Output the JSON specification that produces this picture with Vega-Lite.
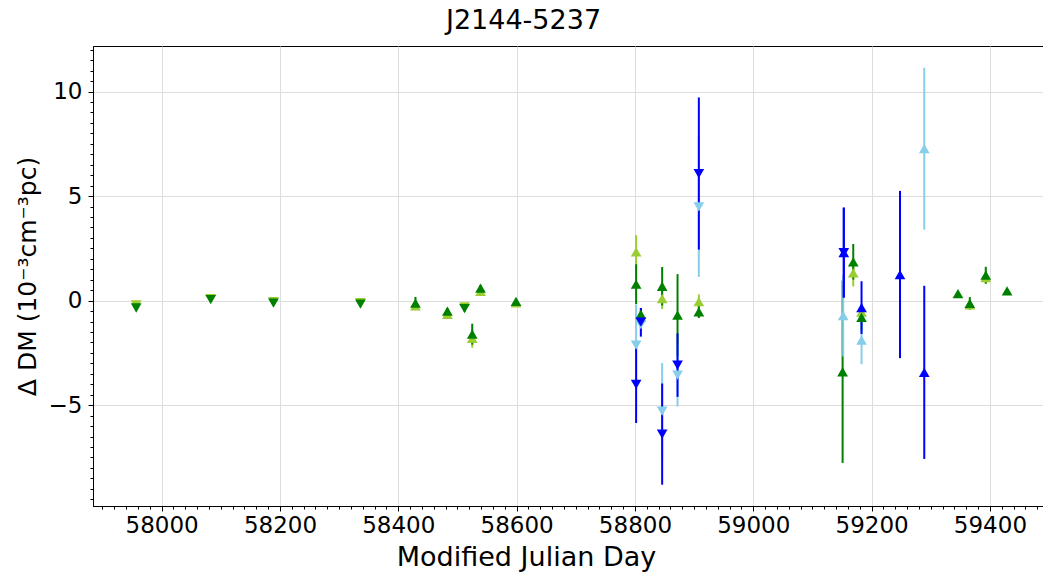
{
  "$schema": "https://vega.github.io/schema/vega-lite/v6.json",
  "width": 951,
  "height": 460,
  "autosize": {"type": "none"},
  "padding": {"left": 93, "top": 46, "right": 0, "bottom": 70},
  "title": {"text": "J2144-5237", "fontSize": 27, "font": "DejaVu Sans", "fontWeight": "normal", "color": "#000", "anchor": "middle", "frame": "group", "dx": -45, "baseline": "alphabetic", "offset": -10},
  "config": {
    "font": "DejaVu Sans",
    "view": {"stroke": "#000", "strokeWidth": 1},
    "axis": {"labelFont": "DejaVu Sans", "titleFont": "DejaVu Sans", "labelColor": "#000", "titleColor": "#000", "tickColor": "#000", "domainColor": "#000", "tickWidth": 1, "domainWidth": 1}
  },
  "data": {"values": [
    {"mjd": 57957, "dm": -0.2, "err": 0.1, "sys": "YG", "sub": "down"},
    {"mjd": 58083, "dm": 0.1, "err": 0.1, "sys": "YG", "sub": "down"},
    {"mjd": 58189, "dm": -0.05, "err": 0.1, "sys": "YG", "sub": "down"},
    {"mjd": 58336, "dm": -0.1, "err": 0.1, "sys": "YG", "sub": "down"},
    {"mjd": 58429, "dm": -0.25, "err": 0.2, "sys": "YG", "sub": "up"},
    {"mjd": 58483, "dm": -0.65, "err": 0.15, "sys": "YG", "sub": "up"},
    {"mjd": 58512, "dm": -0.3, "err": 0.15, "sys": "YG", "sub": "down"},
    {"mjd": 58525, "dm": -1.8, "err": 0.45, "sys": "YG", "sub": "up"},
    {"mjd": 58539, "dm": 0.45, "err": 0.15, "sys": "YG", "sub": "up"},
    {"mjd": 58599, "dm": -0.1, "err": 0.1, "sys": "YG", "sub": "up"},
    {"mjd": 58802, "dm": 2.33, "err": 0.8, "sys": "YG", "sub": "up"},
    {"mjd": 58810, "dm": -0.8, "err": 0.3, "sys": "YG", "sub": "up"},
    {"mjd": 58846, "dm": 0.1, "err": 0.5, "sys": "YG", "sub": "up"},
    {"mjd": 58908, "dm": -0.05, "err": 0.35, "sys": "YG", "sub": "up"},
    {"mjd": 59169, "dm": 1.33, "err": 0.65, "sys": "YG", "sub": "up"},
    {"mjd": 59183, "dm": -0.55, "err": 0.3, "sys": "YG", "sub": "up"},
    {"mjd": 59366, "dm": -0.2, "err": 0.2, "sys": "YG", "sub": "up"},
    {"mjd": 59393, "dm": 1.1, "err": 0.3, "sys": "YG", "sub": "up"},
    {"mjd": 57957, "dm": -0.35, "err": 0.1, "sys": "G", "sub": "down"},
    {"mjd": 58083, "dm": 0.05, "err": 0.1, "sys": "G", "sub": "down"},
    {"mjd": 58189, "dm": -0.12, "err": 0.1, "sys": "G", "sub": "down"},
    {"mjd": 58336, "dm": -0.17, "err": 0.1, "sys": "G", "sub": "down"},
    {"mjd": 58429, "dm": -0.12, "err": 0.3, "sys": "G", "sub": "up"},
    {"mjd": 58483, "dm": -0.5, "err": 0.15, "sys": "G", "sub": "up"},
    {"mjd": 58512, "dm": -0.38, "err": 0.15, "sys": "G", "sub": "down"},
    {"mjd": 58525, "dm": -1.6, "err": 0.5, "sys": "G", "sub": "up"},
    {"mjd": 58539, "dm": 0.6, "err": 0.15, "sys": "G", "sub": "up"},
    {"mjd": 58599, "dm": -0.03, "err": 0.1, "sys": "G", "sub": "up"},
    {"mjd": 58802, "dm": 0.79, "err": 0.95, "sys": "G", "sub": "up"},
    {"mjd": 58810, "dm": -0.65, "err": 0.3, "sys": "G", "sub": "up"},
    {"mjd": 58846, "dm": 0.69, "err": 0.92, "sys": "G", "sub": "up"},
    {"mjd": 58872, "dm": -0.69, "err": 1.96, "sys": "G", "sub": "up"},
    {"mjd": 58908, "dm": -0.53, "err": 0.3, "sys": "G", "sub": "up"},
    {"mjd": 59151, "dm": -3.4, "err": 4.36, "sys": "G", "sub": "up"},
    {"mjd": 59169, "dm": 1.86, "err": 0.85, "sys": "G", "sub": "up"},
    {"mjd": 59183, "dm": -0.8, "err": 0.6, "sys": "G", "sub": "up"},
    {"mjd": 59346, "dm": 0.34, "err": 0.12, "sys": "G", "sub": "up"},
    {"mjd": 59366, "dm": -0.13, "err": 0.3, "sys": "G", "sub": "up"},
    {"mjd": 59393, "dm": 1.22, "err": 0.4, "sys": "G", "sub": "up"},
    {"mjd": 59429, "dm": 0.47, "err": 0.1, "sys": "G", "sub": "up"},
    {"mjd": 58802, "dm": -2.13, "err": 1.95, "sys": "SB", "sub": "down"},
    {"mjd": 58810, "dm": -1.15, "err": 0.6, "sys": "SB", "sub": "down"},
    {"mjd": 58846, "dm": -5.28, "err": 2.3, "sys": "SB", "sub": "down"},
    {"mjd": 58872, "dm": -3.56, "err": 1.5, "sys": "SB", "sub": "down"},
    {"mjd": 58908, "dm": 4.49, "err": 3.35, "sys": "SB", "sub": "down"},
    {"mjd": 59152, "dm": -0.72, "err": 1.95, "sys": "SB", "sub": "up"},
    {"mjd": 59183, "dm": -1.89, "err": 1.15, "sys": "SB", "sub": "up"},
    {"mjd": 59289, "dm": 7.27, "err": 3.87, "sys": "SB", "sub": "up"},
    {"mjd": 58802, "dm": -4.0, "err": 1.85, "sys": "B", "sub": "down"},
    {"mjd": 58810, "dm": -1.03, "err": 0.68, "sys": "B", "sub": "down"},
    {"mjd": 58846, "dm": -6.38, "err": 2.42, "sys": "B", "sub": "down"},
    {"mjd": 58872, "dm": -3.08, "err": 1.52, "sys": "B", "sub": "down"},
    {"mjd": 58908, "dm": 6.08, "err": 3.64, "sys": "B", "sub": "down"},
    {"mjd": 59153, "dm": 2.3, "err": 2.15, "sys": "B", "sub": "up"},
    {"mjd": 59153, "dm": 2.3, "err": 2.15, "sys": "B", "sub": "down"},
    {"mjd": 59183, "dm": -0.33, "err": 1.26, "sys": "B", "sub": "up"},
    {"mjd": 59248, "dm": 1.25, "err": 4.0, "sys": "B", "sub": "up"},
    {"mjd": 59289, "dm": -3.43, "err": 4.14, "sys": "B", "sub": "up"}
  ]},
  "layer": [
    {
      "mark": {"type": "errorbar", "thickness": 2},
      "encoding": {
        "x": {"field": "mjd", "type": "quantitative", "scale": {"domain": [57884, 59491.4], "nice": false, "zero": false},
          "axis": {"orient": "bottom", "values": [57900,57920,57940,57960,57980,58000,58020,58040,58060,58080,58100,58120,58140,58160,58180,58200,58220,58240,58260,58280,58300,58320,58340,58360,58380,58400,58420,58440,58460,58480,58500,58520,58540,58560,58580,58600,58620,58640,58660,58680,58700,58720,58740,58760,58780,58800,58820,58840,58860,58880,58900,58920,58940,58960,58980,59000,59020,59040,59060,59080,59100,59120,59140,59160,59180,59200,59220,59240,59260,59280,59300,59320,59340,59360,59380,59400,59420,59440,59460,59480], "labels": false, "ticks": true, "tickSize": 3, "domain": false, "grid": false, "title": null}},
        "y": {"field": "dm", "type": "quantitative", "scale": {"domain": [-9.82, 12.18], "nice": false, "zero": false},
          "axis": {"orient": "left", "values": [-9.5,-9,-8.5,-8,-7.5,-7,-6.5,-6,-5.5,-5,-4.5,-4,-3.5,-3,-2.5,-2,-1.5,-1,-0.5,0,0.5,1,1.5,2,2.5,3,3.5,4,4.5,5,5.5,6,6.5,7,7.5,8,8.5,9,9.5,10,10.5,11,11.5,12], "labels": false, "ticks": true, "tickSize": 3, "domain": false, "grid": false, "title": null}},
        "yError": {"field": "err"},
        "color": {"field": "sys", "type": "nominal", "scale": {"domain": ["YG", "G", "SB", "B"], "range": ["#9acd32", "#008000", "#87ceeb", "#0000ff"]}, "legend": null}
      }
    },
    {
      "mark": {"type": "point", "filled": true, "size": 115, "opacity": 1, "strokeWidth": 0},
      "encoding": {
        "x": {"field": "mjd", "type": "quantitative",
          "axis": {"orient": "bottom", "values": [58000, 58200, 58400, 58600, 58800, 59000, 59200, 59400], "format": "d", "labelFontSize": 23, "labelPadding": 3, "tickSize": 5, "grid": true, "gridColor": "#dddddd", "gridWidth": 1, "title": "Modified Julian Day", "titleFontSize": 27, "titleFontWeight": "normal", "titlePadding": 7, "titleX": 433, "titleAlign": "center", "titleAnchor": "start"}},
        "y": {"field": "dm", "type": "quantitative",
          "axis": {"orient": "left", "values": [-5, 0, 5, 10], "labelFontSize": 23, "labelPadding": 6, "tickSize": 5, "grid": true, "gridColor": "#dddddd", "gridWidth": 1, "title": "Δ DM (10⁻³cm⁻³pc)", "titleFontSize": 25, "titleFontWeight": "normal", "titlePadding": 8}},
        "color": {"field": "sys", "type": "nominal", "legend": null},
        "shape": {"field": "sub", "type": "nominal", "scale": {"domain": ["up", "down"], "range": ["triangle-up", "triangle-down"]}, "legend": null}
      }
    }
  ],
  "resolve": {"axis": {"x": "independent", "y": "independent"}}
}
